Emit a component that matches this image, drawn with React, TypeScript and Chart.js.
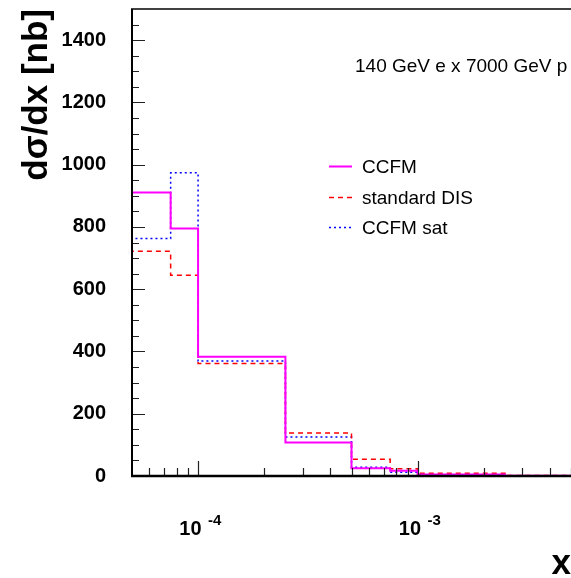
import React, { useEffect, useRef } from 'react';
import { Chart, registerables } from 'chart.js';

Chart.register(...registerables);

// bin edges (first edge lies left of the visible range)
const binEdges = [2.5e-5, 5e-5, 7.5e-5, 1e-4, 2.5e-4, 5e-4, 7.5e-4, 1e-3, 2.5e-3, 5e-3];
// bin contents dσ/dx [nb]
const ccfm = [877, 911, 795, 383, 108, 25, 17, 5, 1];
const standardDIS = [780, 722, 645, 361, 138, 54, 23.5, 8.5, 1.5];
const ccfmSat = [1166, 763, 974, 369, 125, 28, 12, 4, 0.8];

const seriesLabels = ['CCFM', 'standard DIS', 'CCFM sat'];
const yTickValues = [0, 200, 400, 600, 800, 1000, 1200, 1400];
const yMinorTickValues = [
  50, 100, 150, 250, 300, 350, 450, 500, 550, 650, 700, 750, 850, 900, 950,
  1050, 1100, 1150, 1250, 1300, 1350, 1450,
];
const xMajorTicks = [1e-4, 1e-3];
const xMajorExponents = ['-4', '-3'];
const xMinorTicks = [
  6e-5, 7e-5, 8e-5, 9e-5, 2e-4, 3e-4, 4e-4, 5e-4, 6e-4, 7e-4, 8e-4, 9e-4,
  2e-3, 3e-3, 4e-3, 5e-3,
];
const xRange = [5e-5, 5e-3];
const yRange = [0, 1500];
const titleText = '140 GeV e x 7000 GeV p';
const yAxisTitle = 'dσ/dx [nb]';
const xAxisTitle = 'x';

const FONT = '"Liberation Sans", Arial, Helvetica, sans-serif';

function toPoints(values: number[]) {
  return binEdges.map((e, i) => ({ x: e, y: i < values.length ? values[i] : values[values.length - 1] }));
}

const styles = [
  { color: '#ff00ff', dash: [] as number[], width: 2 },
  { color: '#ff0000', dash: [5, 4], width: 1.5 },
  { color: '#0000ff', dash: [2, 3], width: 1.5 },
];

const decorPlugin = {
  id: 'rootDecor',
  afterDraw(chart: any) {
    const { ctx, chartArea, scales } = chart;
    const { left, right, top, bottom } = chartArea;
    const xs = scales.x;
    const ys = scales.y;
    ctx.save();
    ctx.setLineDash([]);
    ctx.strokeStyle = '#222';
    ctx.lineWidth = 1.2;
    // y ticks (inside)
    ctx.beginPath();
    for (const v of yTickValues) {
      const py = Math.round(ys.getPixelForValue(v)) + 0.5;
      ctx.moveTo(left, py);
      ctx.lineTo(left + 13, py);
    }
    for (const v of yMinorTickValues) {
      const py = Math.round(ys.getPixelForValue(v)) + 0.5;
      ctx.moveTo(left, py);
      ctx.lineTo(left + 7, py);
    }
    // x ticks (inside)
    for (const v of xMajorTicks) {
      const px = Math.round(xs.getPixelForValue(v)) + 0.5;
      ctx.moveTo(px, bottom);
      ctx.lineTo(px, bottom - 15);
    }
    for (const v of xMinorTicks) {
      const px = Math.round(xs.getPixelForValue(v)) + 0.5;
      ctx.moveTo(px, bottom);
      ctx.lineTo(px, bottom - 8);
    }
    ctx.stroke();

    // frame
    ctx.strokeStyle = '#000';
    ctx.lineWidth = 2;
    ctx.beginPath();
    ctx.moveTo(left, top);
    ctx.lineTo(left, bottom);
    ctx.stroke();
    ctx.lineWidth = 2.5;
    ctx.beginPath();
    ctx.moveTo(left - 1, bottom);
    ctx.lineTo(right, bottom);
    ctx.stroke();
    ctx.lineWidth = 1.5;
    ctx.beginPath();
    ctx.moveTo(left - 1, top);
    ctx.lineTo(right, top);
    ctx.stroke();

    // x tick labels 10^n
    ctx.fillStyle = '#000';
    xMajorTicks.forEach((v, i) => {
      const px = xs.getPixelForValue(v);
      ctx.font = `bold 20px ${FONT}`;
      ctx.textAlign = 'right';
      ctx.textBaseline = 'alphabetic';
      ctx.fillText('10', px + 3.5, 535);
      ctx.font = `bold 15px ${FONT}`;
      ctx.textAlign = 'left';
      ctx.fillText(xMajorExponents[i], px + 10, 525);
    });

    // x axis title
    ctx.font = `bold 35px ${FONT}`;
    ctx.textAlign = 'right';
    ctx.fillText(xAxisTitle, 571, 574);

    // header text
    ctx.font = `19px ${FONT}`;
    ctx.textAlign = 'left';
    ctx.fillText(titleText, 355, 72);

    // legend
    const legendY = [166, 197, 227];
    chart.data.datasets.forEach((ds: any, i: number) => {
      const y = legendY[i];
      ctx.strokeStyle = ds.borderColor;
      ctx.lineWidth = ds.borderWidth;
      ctx.setLineDash(ds.borderDash || []);
      ctx.beginPath();
      ctx.moveTo(329, y + 0.5);
      ctx.lineTo(352, y + 0.5);
      ctx.stroke();
      ctx.setLineDash([]);
      ctx.fillStyle = '#000';
      ctx.font = `19px ${FONT}`;
      ctx.textAlign = 'left';
      ctx.fillText(ds.label, 362, y + 7);
    });
    ctx.restore();
  },
};

export default function App() {
  const ref = useRef<HTMLCanvasElement | null>(null);
  useEffect(() => {
    if (!ref.current) return;
    const seriesValues = [ccfm, standardDIS, ccfmSat];
    const chart = new Chart(ref.current, {
      type: 'line',
      data: {
        datasets: seriesValues.map((vals, i) => ({
          label: seriesLabels[i],
          data: toPoints(vals),
          borderColor: styles[i].color,
          borderDash: styles[i].dash,
          borderWidth: styles[i].width,
          stepped: 'before' as const,
          pointRadius: 0,
          fill: false,
          tension: 0,
        })),
      },
      options: {
        animation: false,
        responsive: false,
        devicePixelRatio: 1,
        layout: { padding: { left: 0, top: 9, right: 0, bottom: 0 } },
        plugins: { legend: { display: false }, tooltip: { enabled: false } },
        scales: {
          x: {
            type: 'logarithmic',
            min: xRange[0],
            max: xRange[1],
            grid: { display: false },
            border: { display: false },
            ticks: { display: false },
            afterFit: (s: any) => {
              s.height = 102;
              s.paddingLeft = 0;
              s.paddingRight = 0;
            },
          },
          y: {
            type: 'linear',
            min: yRange[0],
            max: yRange[1],
            grid: { display: false, drawTicks: false },
            border: { display: false },
            afterBuildTicks: (s: any) => {
              s.ticks = yTickValues.map((v) => ({ value: v }));
            },
            ticks: {
              color: '#000',
              padding: 26,
              font: { family: FONT, size: 20, weight: 'bold' },
              callback: (v: any) => String(v),
            },
            title: {
              display: true,
              text: yAxisTitle,
              align: 'end',
              color: '#000',
              font: { family: FONT, size: 35, weight: 'bold' },
              padding: { top: 16, bottom: 0 },
            },
            afterFit: (s: any) => {
              s.width = 132;
              s.paddingTop = 0;
              s.paddingBottom = 0;
            },
          },
        },
      },
      plugins: [decorPlugin],
    } as any);
    return () => chart.destroy();
  }, []);
  return (
    <div style={{ position: 'fixed', left: 0, top: 0, width: 571, height: 578, background: '#fff' }}>
      <canvas ref={ref} width={571} height={578} style={{ display: 'block', width: 571, height: 578 }} />
    </div>
  );
}
